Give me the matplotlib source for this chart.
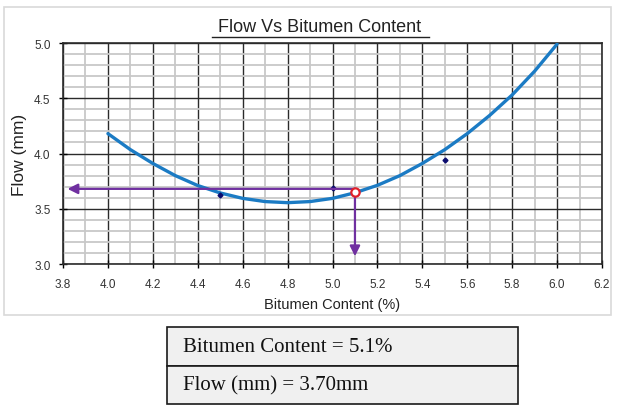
import matplotlib.pyplot as plt
from matplotlib.patches import Rectangle
from matplotlib.ticker import MultipleLocator

# trend curve
curve_x = [4.0, 4.1, 4.2, 4.3, 4.4, 4.5, 4.6, 4.7, 4.8, 4.9, 5.0,
           5.1, 5.2, 5.3, 5.4, 5.5, 5.6, 5.7, 5.8, 5.9, 6.0]
curve_y = [4.18, 4.035, 3.91, 3.80, 3.71, 3.643, 3.594, 3.565, 3.555, 3.565, 3.594,
           3.645, 3.712, 3.80, 3.91, 4.035, 4.18, 4.345, 4.53, 4.745, 4.99]

# measured points
pts_x = [4.5, 5.0, 5.5]
pts_y = [3.62, 3.69, 3.94]

# read-off at the chosen bitumen content
sel_x = 5.1
sel_y = 3.655
arrow_y = 3.68
arrow_left = 3.82
arrow_bottom = 3.07

table_rows = ["Bitumen Content = 5.1%", "Flow (mm) = 3.70mm"]

plt.rcParams['font.family'] = ['Liberation Sans', 'DejaVu Sans']

fig = plt.figure(figsize=(6.21, 4.06), dpi=100)

# light frame around the chart panel
fig.patches.append(Rectangle((4 / 621, 1 - 316 / 406), 607 / 621, 308 / 406,
                             transform=fig.transFigure, fill=False,
                             edgecolor='#d9d9d9', linewidth=1.2))

ax = fig.add_axes([63 / 621, 1 - 265 / 406, 539 / 621, 221 / 406])
ax.set_xlim(3.8, 6.2)
ax.set_ylim(3.0, 5.0)
ax.xaxis.set_major_locator(MultipleLocator(0.2))
ax.xaxis.set_minor_locator(MultipleLocator(0.1))
ax.yaxis.set_major_locator(MultipleLocator(0.5))
ax.yaxis.set_minor_locator(MultipleLocator(0.1))
ax.xaxis.set_major_formatter(lambda v, p: f"{v:.1f}")
ax.yaxis.set_major_formatter(lambda v, p: f"{v:.1f}")

ax.grid(which='minor', color='#c8c8c8', linewidth=1.3)
ax.grid(which='major', color='#2b2b2b', linewidth=1.0)
ax.set_axisbelow(True)
ax.tick_params(which='major', direction='inout', length=6, width=1,
               labelsize=8.5, labelcolor='#333333')
ax.tick_params(axis='x', pad=7)
ax.tick_params(axis='y', pad=6)
ax.tick_params(which='minor', length=0)
for s in ax.spines.values():
    s.set_color('#2b2b2b')
    s.set_linewidth(1.2)

ax.plot(curve_x, curve_y, color='#1b7bc4', linewidth=2.4, solid_capstyle='round',
        solid_joinstyle='round', zorder=3)
ax.plot(pts_x, pts_y, linestyle='none', marker='D', markersize=2.5,
        color='#0b0b6e', zorder=4)

purple = '#7030a0'
ax.annotate('', xy=(arrow_left, arrow_y), xytext=(sel_x, arrow_y),
            arrowprops=dict(arrowstyle='-|>', color=purple, lw=1.6,
                            mutation_scale=15, shrinkA=0, shrinkB=0), zorder=5)
ax.annotate('', xy=(sel_x, arrow_bottom), xytext=(sel_x, arrow_y),
            arrowprops=dict(arrowstyle='-|>', color=purple, lw=1.6,
                            mutation_scale=15, shrinkA=0, shrinkB=0), zorder=5)
ax.plot([sel_x], [sel_y], marker='o', markersize=6, markerfacecolor='white',
        markeredgecolor='#e0202a', markeredgewidth=1.6, linestyle='none', zorder=6)

fig.text(320 / 621, 1 - 28 / 406, "Flow Vs Bitumen Content", ha='center',
         va='center', fontsize=13, color='#222222')
fig.lines.append(plt.Line2D([212 / 621, 429 / 621], [1 - 38 / 406, 1 - 38 / 406],
                            transform=fig.transFigure, color='#222222', lw=1))
ax.set_xlabel("Bitumen Content (%)", fontsize=10.5, color='#222222', labelpad=5)
ax.set_ylabel("Flow (mm)", fontsize=12.5, color='#222222', labelpad=5)

# result table
tab = fig.add_axes([167 / 621, 1 - 405 / 406, 351 / 621, 77 / 406])
tab.set_xlim(0, 1)
tab.set_ylim(0, 2)
tab.axis('off')
for i, row in enumerate(table_rows):
    y0 = 1 - i
    tab.add_patch(Rectangle((0, y0), 1, 1, facecolor='#f0f0f0',
                            edgecolor='#1a1a1a', linewidth=1.2, clip_on=False))
    tab.text(0.045, y0 + 0.5, row, ha='left', va='center', fontsize=15,
             family=['Liberation Serif', 'DejaVu Serif'], color='#111111')

fig.savefig('out.png', dpi=100)
